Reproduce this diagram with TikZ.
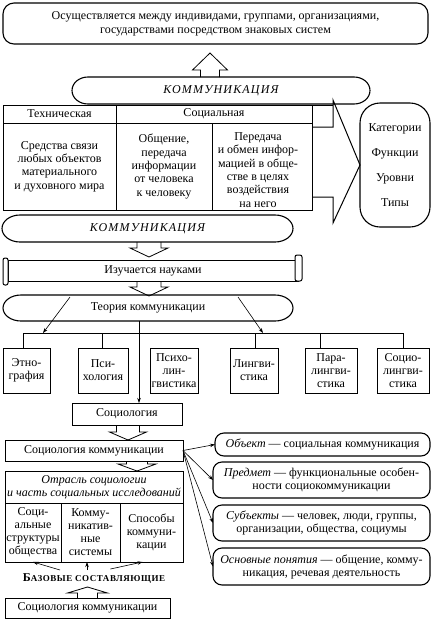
\documentclass[tikz,border=0pt]{standalone}
\usepackage{fontspec}
\setmainfont{Liberation Serif}
\newfontfamily\kommfont[LetterSpace=10]{Liberation Serif}
\newfontfamily\bazfont[LetterSpace=6]{Liberation Serif}
\usetikzlibrary{arrows.meta,calc}
\newcommand\myfs[2]{\fontsize{#1}{#2}\selectfont}
\newcommand\ovalaround[2]{%
  \draw[ovl] let \p1=(#1.north west), \p2=(#1.south east), \n1={(\y1-\y2)/2} in
   (\x1+#2pt,\y1) -- (\x2-#2pt,\y1) arc[start angle=90,end angle=-90,x radius=#2pt,y radius=\n1]
   -- (\x1+#2pt,\y2) arc[start angle=270,end angle=90,x radius=#2pt,y radius=\n1] -- cycle;}
% hollow vertical arrow: #1 start point, #2 tip point, #3 shaft half width, #4 head half width, #5 head length
\newcommand\harrow[5]{%
  \draw[hol] let \p1=#1, \p2=#2, \n1={sign(\y2-\y1)} in
   (\x2-#3pt,\y1) -- (\x2-#3pt,\y2-\n1*#5pt) -- (\x2-#4pt,\y2-\n1*#5pt) -- (\x2,\y2)
   -- (\x2+#4pt,\y2-\n1*#5pt) -- (\x2+#3pt,\y2-\n1*#5pt) -- (\x2+#3pt,\y1);}
\tikzset{
  cell/.style={draw, line width=1pt, inner sep=0pt, outer sep=0pt, align=center, font=\myfs{12}{13.3}},
  rbox/.style={cell, line width=1.1pt, rounded corners=9pt, font=\myfs{12}{13}},
  rowbox/.style={cell, minimum height=45pt, font=\myfs{12}{13}},
  lowbox/.style={cell, font=\myfs{12}{13}},
  ovalnode/.style={inner sep=0pt, outer sep=0pt, align=center},
  ovl/.style={line width=1.1pt},
  hol/.style={line width=0.8pt, line join=miter},
  ln/.style={line width=1pt},
  bus/.style={line width=0.6pt},
  conn/.style={line width=0.6pt, -{Stealth[length=5pt,width=3.5pt]}},
  komm/.style={font=\kommfont\itshape\myfs{12}{13}}
}
\begin{document}
\begin{tikzpicture}[x=1pt,y=-1pt]
\useasboundingbox (0,0) rectangle (431,622);

% top
\node[rbox, rounded corners=11pt, minimum width=425pt, minimum height=41pt, font=\myfs{12}{14}] (top) at (215.5,23.5)
  {Осуществляется между индивидами, группами, организациями,\\государствами посредством знаковых систем};

% first oval
\node[ovalnode, komm, minimum width=298pt, minimum height=27pt] (komm1) at (221,90.5) {КОММУНИКАЦИЯ};
\ovalaround{komm1}{16}
\harrow{(komm1.north)}{($(top.south)+(-5.5,9)$)}{9.5}{17.5}{17}

% table
\node[cell, minimum width=113pt, minimum height=18pt] (th1) at (59.5,114) {Техническая};
\node[cell, minimum width=196pt, minimum height=18pt] (th2) at (214,114) {Социальная};
\node[cell, minimum width=113pt, minimum height=87pt] (c1) at (59.5,166.5)
  {Средства связи\\любых объектов\\материального\\и духовного мира};
\node[cell, minimum width=96pt, minimum height=87pt] (c2) at (164,166.5)
  {Общение,\\передача\\информации\\от человека\\к человеку};
\node[cell, minimum width=100pt, minimum height=87pt] (c3) at (262,166.5) {};
\node[align=center, inner sep=0pt, font=\myfs{12}{13.3}] (c3t) at (258,170)
  {Передача\\и обмен инфор-\\мацией в обще-\\стве в целях\\воздействия\\на него};

% categories and chevron
\node[rbox, rounded corners=20pt, minimum width=70pt, minimum height=124pt, font=\myfs{12}{25}] (cat) at (395,165)
  {Категории\\Функции\\Уровни\\Типы};
\draw[ln] (th2.north east) -- ++(21,0);
\draw[ln, line join=miter] ($(th2.south east)+(0,4)$) -- ++(21,0) -- ++(0,-27) -- (cat.west)
  -- ($(c3.south east)+(21,13)$) -- ++(0,-26) -- ++(-21,0);

% second oval
\node[ovalnode, komm, minimum width=291pt, minimum height=27pt] (komm2) at (147.5,228.5) {КОММУНИКАЦИЯ};
\ovalaround{komm2}{18}

% scroll
\node[cell, minimum width=290pt, minimum height=21pt, font=\myfs{12}{13}] (scroll) at (153,270.5) {Изучается науками};
\draw[ln, fill=white, rounded corners=2pt] ($(scroll.north west)+(-5,-2)$) rectangle ($(scroll.south west)+(0,4)$);
\draw[ln, fill=white, rounded corners=2pt] ($(scroll.north east)+(-3,-5)$) rectangle ($(scroll.south east)+(4,0)$);
\harrow{(komm2.south)}{($(scroll.north)+(-4,-3)$)}{12}{19}{9}

% third oval
\node[ovalnode, font=\myfs{12}{13}, minimum width=290pt, minimum height=26pt] (oval3) at (148,308) {Теория коммуникации};
\ovalaround{oval3}{18}
\harrow{(scroll.south)}{($(oval3.north)+(1,1)$)}{12}{19}{9}

% sciences row
\node[rowbox, minimum width=47pt] (etno) at (26.5,370.5) {Этно-\\графия};
\node[rowbox, minimum width=50pt] (psych) at (103,370.5) {Пси-\\хология};
\node[rowbox, minimum width=48pt] (psyl) at (174,370.5) {Психо-\\лин-\\гвистика};
\node[rowbox, minimum width=48pt] (ling) at (254,370.5) {Лингви-\\стика};
\node[rowbox, minimum width=52pt] (para) at (331,370.5) {Пара-\\лингви-\\стика};
\node[rowbox, minimum width=52pt] (socl) at (403,370.5) {Социо-\\лингви-\\стика};

\coordinate (hl) at (23,333);
\coordinate (hr) at (403,333);
\coordinate (bl) at (43,333);
\coordinate (br) at (263,333);
\draw[bus] (hl) -- (hr);
\draw[bus] ($(etno.north)+(-3.5,0)$) -- ++(0,-15);
\draw[bus] ($(psych.north)+(-1,0)$) -- ++(0,-15);
\draw[bus] ($(ling.north)+(1,0)$) -- ++(0,-15);
\draw[bus] ($(para.north)+(-11,0)$) -- ++(0,-15);
\draw[bus] (socl.north) -- ++(0,-15);
\draw[conn] ($(oval3.north west)+(67,2)$) -- (bl);
\draw[conn] ($(oval3.north west)+(235,2)$) -- (br);

% sociology
\node[lowbox, minimum width=110pt, minimum height=22pt] (soc) at (127,414) {Социология};
\draw[conn] ($(oval3.south)+(-9,0)$) -- ($(soc.north)+(12,0)$);

\node[lowbox, minimum width=178pt, minimum height=21pt] (soccom) at (94,450.5) {Социология коммуникации};
\harrow{(soc.south)}{($(soccom.north)+(34,0)$)}{11.5}{18.5}{8}

\node[lowbox, minimum width=178pt, minimum height=32pt, font=\itshape\myfs{12}{12.5}] (otr) at (94,487)
  {Отрасль социологии\\и часть социальных исследований};
\harrow{(soccom.south)}{($(otr.north)+(43,0)$)}{10.5}{19}{7}

\node[lowbox, minimum width=56pt, minimum height=59pt] (col1) at (33,532.5) {Соци-\\альные\\структуры\\общества};
\node[lowbox, minimum width=59pt, minimum height=59pt] (col2) at (90.5,532.5) {Комму-\\никатив-\\ные\\системы};
\node[lowbox, minimum width=63pt, minimum height=59pt] (col3) at (151.5,532.5) {Способы\\коммуни-\\кации};

\node[inner sep=0pt, font=\bazfont\bfseries] (baz) at (94,579)
  {{\myfs{12}{13}Б}{\myfs{9}{13}АЗОВЫЕ СОСТАВЛЯЮЩИЕ}};
\draw[conn] ($(col1.south)+(27,8)$) -- (col1.south);
\draw[conn] ($(col2.south)+(-3.5,8)$) -- ($(col2.south)+(-3.5,0)$);
\draw[conn] ($(col3.south)+(-41,7)$) -- ($(col3.south)+(-9,0)$);

\node[lowbox, minimum width=165pt, minimum height=20pt] (last) at (87.5,608) {Социология коммуникации};
\harrow{(last.north)}{($(last.north)+(0,-11)$)}{10}{20}{6}

% right boxes
\node[rbox, minimum width=215pt, minimum height=23pt] (obj) at (322.5,444.5)
  {\textit{Объект} — социальная коммуникация};
\node[rbox, minimum width=217pt, minimum height=36pt] (pred) at (321.5,480)
  {\textit{Предмет} — функциональные особен-\\ности социокоммуникации};
\node[rbox, minimum width=217pt, minimum height=36pt] (subj) at (321.5,523)
  {\textit{Субъекты} — человек, люди, группы,\\организации, общества, социумы};
\node[rbox, minimum width=217pt, minimum height=37pt] (osn) at (321.5,566.5)
  {\textit{Основные понятия} — общение, комму-\\никация, речевая деятельность};
\draw[conn] (soccom.east) -- (obj.west);
\draw[conn] (soccom.east) -- (pred.west);
\draw[conn] (soccom.east) -- (subj.west);
\draw[conn] (soccom.east) -- (osn.west);
\end{tikzpicture}
\end{document}
